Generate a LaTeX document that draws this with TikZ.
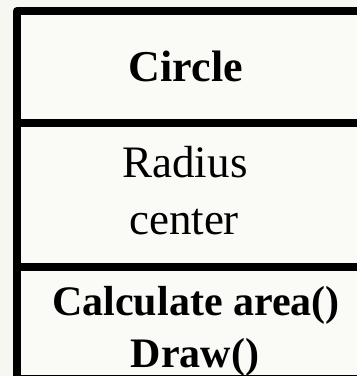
\documentclass[tikz,border=0pt]{standalone}
\usepackage{fontspec}
\setmainfont{Liberation Serif}
\definecolor{bgcol}{HTML}{F6F7F1}
\definecolor{boxcol}{HTML}{FAFAF7}
\begin{document}
\begin{tikzpicture}[x=1pt,y=-1pt,
  border/.style={line width=8pt, line join=round, draw=black},
  label/.style={anchor=base, inner sep=0pt, font=\fontsize{45}{54}\selectfont},
  boldlabel/.style={anchor=base, inner sep=0pt, font=\fontsize{42}{50}\selectfont\bfseries},
  titlelabel/.style={anchor=base, inner sep=0pt, font=\fontsize{44}{52}\selectfont\bfseries}]
\useasboundingbox[fill=bgcol] (0,0) rectangle (357,376);
\fill[boxcol] (17,11) rectangle (370,380);
\coordinate (tl) at (17,11);
\coordinate (tr) at (370,11);
\coordinate (bl) at (17,380);
\coordinate (d1l) at (17,123);
\coordinate (d1r) at (370,123);
\coordinate (d2l) at (17,267);
\coordinate (d2r) at (370,267);
\coordinate (bbl) at (17,379);
\coordinate (bbr) at (370,379);
\draw[border] (bl) -- (tl) -- (tr);
\draw[border] (d1l) -- (d1r);
\draw[border] (d2l) -- (d2r);
\draw[border] (bbl) -- (bbr);
\node[titlelabel] (name) at (186,81) {Circle};
\node[label] (attr1) at (185,177) {Radius};
\node[label] (attr2) at (184,234) {center};
\node[boldlabel] (op1) at (196,315) {Calculate area()};
\node[boldlabel] (op2) at (195,367) {Draw()};
\end{tikzpicture}
\end{document}
